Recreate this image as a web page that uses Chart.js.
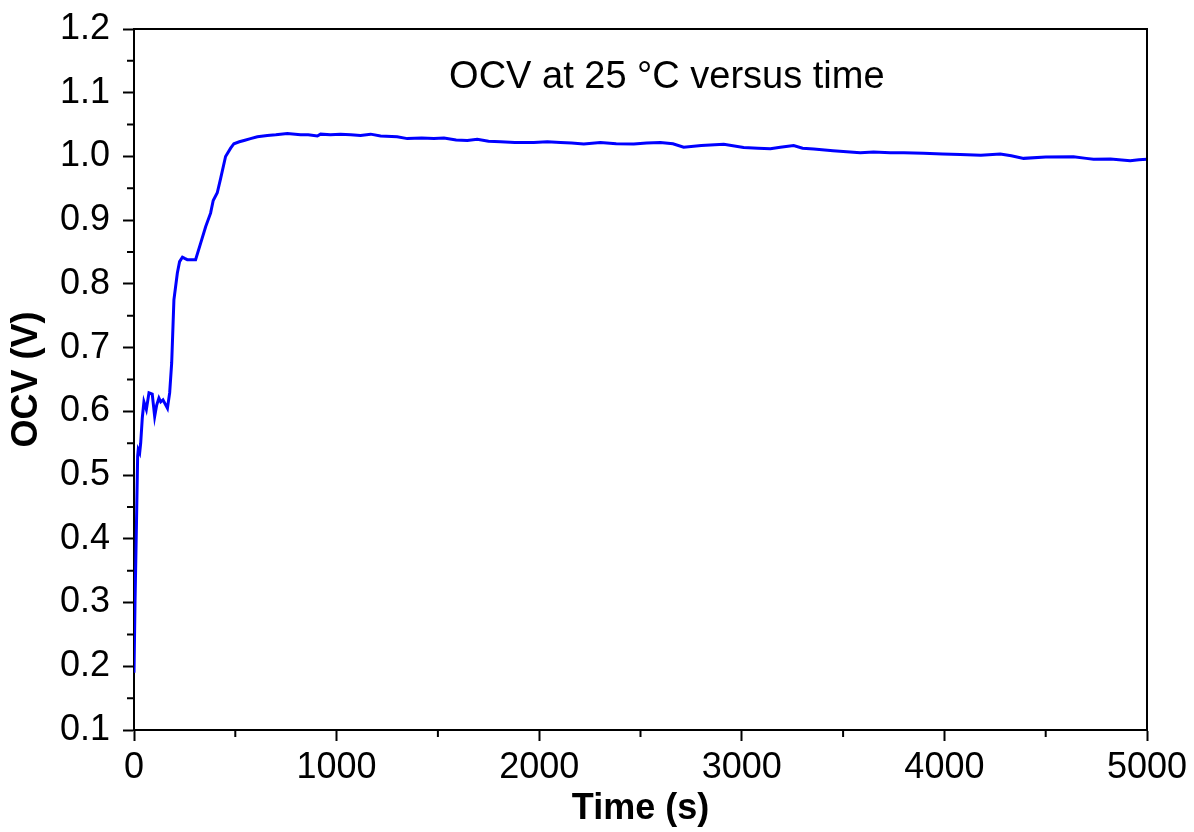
<!DOCTYPE html>
<html>
<head>
<meta charset="utf-8">
<script src="https://cdn.jsdelivr.net/npm/chart.js@4"></script>
<style>
  html, body { margin: 0; padding: 0; background: #fff; }
  #wrap { width: 1194px; height: 832px; }
</style>
</head>
<body>
<div id="wrap"><canvas id="ocvChart"></canvas></div>
<script>
// OCV at 25 C
const timeS = [0, 5, 12, 18, 21, 28, 33, 41, 49, 61, 74, 90, 102, 112, 123, 132, 143, 165, 176,
  186, 197, 214, 225, 239, 250, 263, 304, 329, 354, 378, 391, 411, 428, 452, 477, 493, 520, 543,
  575, 609, 658, 700, 757, 822, 860, 905, 921, 970, 1019, 1070, 1118, 1168, 1217, 1299, 1349,
  1420, 1480, 1530, 1590, 1645, 1694, 1750, 1809, 1880, 1973, 2040, 2105, 2160, 2220, 2302,
  2380, 2467, 2530, 2598, 2660, 2713, 2800, 2911, 3009, 3080, 3141, 3190, 3256, 3300, 3355,
  3450, 3585, 3650, 3733, 3800, 3897, 3990, 4078, 4180, 4276, 4330, 4391, 4500, 4637, 4700,
  4736, 4820, 4917, 4960, 5000];
const ocvV = [0.19, 0.30, 0.42, 0.53, 0.54, 0.535, 0.55, 0.59, 0.615, 0.603, 0.629, 0.627, 0.592,
  0.61, 0.621, 0.615, 0.618, 0.605, 0.629, 0.676, 0.775, 0.817, 0.835, 0.842, 0.840, 0.838,
  0.838, 0.864, 0.890, 0.911, 0.931, 0.943, 0.966, 1.000, 1.013, 1.020, 1.023, 1.025, 1.028,
  1.031, 1.033, 1.034, 1.036, 1.034, 1.034, 1.032, 1.035, 1.034, 1.035, 1.034, 1.033, 1.035,
  1.032, 1.031, 1.028, 1.029, 1.028, 1.029, 1.026, 1.025, 1.027, 1.024, 1.023, 1.022, 1.022,
  1.023, 1.022, 1.021, 1.0195, 1.022, 1.020, 1.0195, 1.021, 1.022, 1.020, 1.0145, 1.017, 1.019,
  1.014, 1.013, 1.012, 1.0145, 1.017, 1.013, 1.0116, 1.009, 1.006, 1.007, 1.006, 1.006, 1.005,
  1.004, 1.003, 1.002, 1.004, 1.001, 0.997, 0.999, 0.9996, 0.997, 0.9956, 0.996, 0.9934, 0.995,
  0.9956];
const xMinorTicks = [500, 1500, 2500, 3500, 4500];
const yMinorTicks = [0.15, 0.25, 0.35, 0.45, 0.55, 0.65, 0.75, 0.85, 0.95, 1.05, 1.15];

const FONT = "'Liberation Sans', Arial, sans-serif";

const frameAndMinor = {
  id: 'frameAndMinor',
  afterDraw(chart) {
    const { ctx, chartArea: a, scales } = chart;
    ctx.save();
    ctx.strokeStyle = '#000';
    ctx.lineWidth = 2;
    ctx.beginPath();
    ctx.moveTo(a.left, a.top); ctx.lineTo(a.right, a.top); ctx.lineTo(a.right, a.bottom);
    xMinorTicks.forEach(v => {
      const px = scales.x.getPixelForValue(v);
      ctx.moveTo(px, a.bottom); ctx.lineTo(px, a.bottom + 7);
    });
    yMinorTicks.forEach(v => {
      const py = scales.y.getPixelForValue(v);
      ctx.moveTo(a.left, py); ctx.lineTo(a.left - 7, py);
    });
    ctx.stroke();

    // in-plot caption
    ctx.fillStyle = '#000';
    ctx.font = '38px ' + FONT;
    ctx.textAlign = 'center';
    ctx.textBaseline = 'middle';
    ctx.fillText('OCV at 25 \u00b0C versus time', scales.x.getPixelForValue(2630), scales.y.getPixelForValue(1.124));
    ctx.restore();
  }
};

new Chart(document.getElementById('ocvChart'), {
  type: 'line',
  data: {
    labels: timeS,
    datasets: [{
      data: timeS.map((t, i) => ({ x: t, y: ocvV[i] })),
      borderColor: '#0000ff',
      borderWidth: 3,
      pointRadius: 0,
      tension: 0,
      fill: false
    }]
  },
  options: {
    responsive: true,
    maintainAspectRatio: false,
    animation: false,
    events: [],
    layout: { padding: { top: 29, right: 47, left: 0, bottom: 0 } },
    plugins: { legend: { display: false }, tooltip: { enabled: false } },
    scales: {
      x: {
        type: 'linear',
        min: 0, max: 5000,
        afterFit: s => { s.height = 102; },
        border: { color: '#000', width: 2 },
        grid: { drawOnChartArea: false, tickLength: 11, tickColor: '#000', tickWidth: 2 },
        ticks: { stepSize: 1000, color: '#000', padding: 5, maxRotation: 0, font: { family: FONT, size: 36 },
          callback: v => String(v) },
        title: { display: true, text: 'Time (s)', color: '#000', padding: { top: 0, bottom: 1 },
          font: { family: FONT, size: 36, weight: 'bold' } }
      },
      y: {
        min: 0.1, max: 1.2,
        afterFit: s => { s.width = 134; },
        border: { color: '#000', width: 2 },
        grid: { drawOnChartArea: false, tickLength: 11, tickColor: '#000', tickWidth: 2 },
        ticks: { stepSize: 0.1, color: '#000', padding: 13, font: { family: FONT, size: 36, lineHeight: 0.8 },
          callback: v => v.toFixed(1) },
        title: { display: true, text: 'OCV (V)', color: '#000', padding: { top: 5, bottom: 0 },
          font: { family: FONT, size: 36, weight: 'bold' } }
      }
    }
  },
  plugins: [frameAndMinor]
});
</script>
</body>
</html>
